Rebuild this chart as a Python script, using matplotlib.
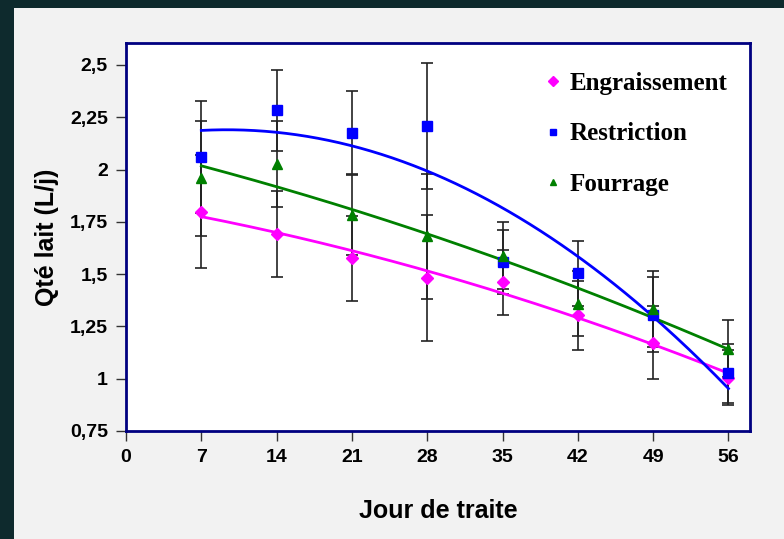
import numpy as np
import matplotlib
matplotlib.use("Agg")
import matplotlib.pyplot as plt
from matplotlib.lines import Line2D
from matplotlib.patches import Rectangle

# data
days = [7, 14, 21, 28, 35, 42, 49, 56]
engraissement = [1.798, 1.693, 1.575, 1.482, 1.461, 1.303, 1.173, 1.005]
engraissement_err = [0.27, 0.205, 0.205, 0.30, 0.155, 0.165, 0.175, 0.13]
restriction = [2.06, 2.284, 2.177, 2.209, 1.557, 1.503, 1.306, 1.025]
restriction_err = [0.266, 0.193, 0.197, 0.30, 0.152, 0.155, 0.18, 0.14]
fourrage = [1.958, 2.025, 1.782, 1.681, 1.589, 1.359, 1.333, 1.143]
fourrage_err = [0.275, 0.205, 0.19, 0.30, 0.16, 0.155, 0.18, 0.136]

series = [
    ("Engraissement", engraissement, engraissement_err, "#ff00ff", "D", 6),
    ("Restriction", restriction, restriction_err, "#0000ff", "s", 6.5),
    ("Fourrage", fourrage, fourrage_err, "#008000", "^", 7),
]

fig = plt.figure(figsize=(7.84, 5.39), dpi=100)
fig.patch.set_facecolor("#0e2a2d")
# light grey slide panel
fig.patches.append(Rectangle((14 / 784, 0), 1, 1 - 8 / 539, transform=fig.transFigure,
                             facecolor="#f2f2f2", edgecolor="none", zorder=-10))

ax = fig.add_axes([126 / 784, 1 - 431 / 539, (750 - 126) / 784, (431 - 43) / 539])
ax.set_facecolor("white")

x = np.array(days)
xs = np.linspace(7, 56, 200)
handles = []
for name, y, err, col, mk, ms in series:
    ax.errorbar(x, y, yerr=err, fmt="none", ecolor="#222222", elinewidth=1.2,
                capsize=4.5, capthick=1.2, zorder=2)
    # polynomial trend line (order 2)
    coef = np.polyfit(x, y, 2)
    ax.plot(xs, np.polyval(coef, xs), color=col, lw=2, zorder=3)
    ax.plot(x, y, linestyle="none", marker=mk, color=col, markersize=ms, zorder=4)
    handles.append(Line2D([], [], linestyle="none", marker=mk, color=col,
                          markersize=5, label=name))

ax.set_xlim(0, 58)
ax.set_ylim(0.75, 2.605)
ax.set_xticks(range(0, 57, 7))
yt = [0.75, 1, 1.25, 1.5, 1.75, 2, 2.25, 2.5]
ax.set_yticks(yt)
ax.set_yticklabels([("%g" % v).replace(".", ",") for v in yt])

for s in ax.spines.values():
    s.set_color("#000080")
    s.set_linewidth(2)
ax.tick_params(direction="out", length=7, width=1, color="#333333", pad=6)
for lab in ax.get_xticklabels() + ax.get_yticklabels():
    lab.set_fontfamily("Liberation Sans")
    lab.set_fontweight("bold")
    lab.set_fontsize(14)

ax.set_xlabel("Jour de traite", fontfamily="Liberation Sans", fontweight="bold",
              fontsize=18, labelpad=24)
ax.set_ylabel("Qté lait (L/j)", fontfamily="Liberation Sans", fontweight="bold",
              fontsize=18, labelpad=8)

leg = ax.legend(handles=handles, loc="upper left", bbox_to_anchor=(545 / 784, 1 - 72 / 539),
                bbox_transform=fig.transFigure, frameon=False, borderpad=0,
                borderaxespad=0, handlelength=0.6, handletextpad=0.4, labelspacing=1.1,
                prop={"family": "Liberation Serif", "weight": "bold", "size": 18})

fig.savefig("out.png", dpi=100, facecolor=fig.get_facecolor())
